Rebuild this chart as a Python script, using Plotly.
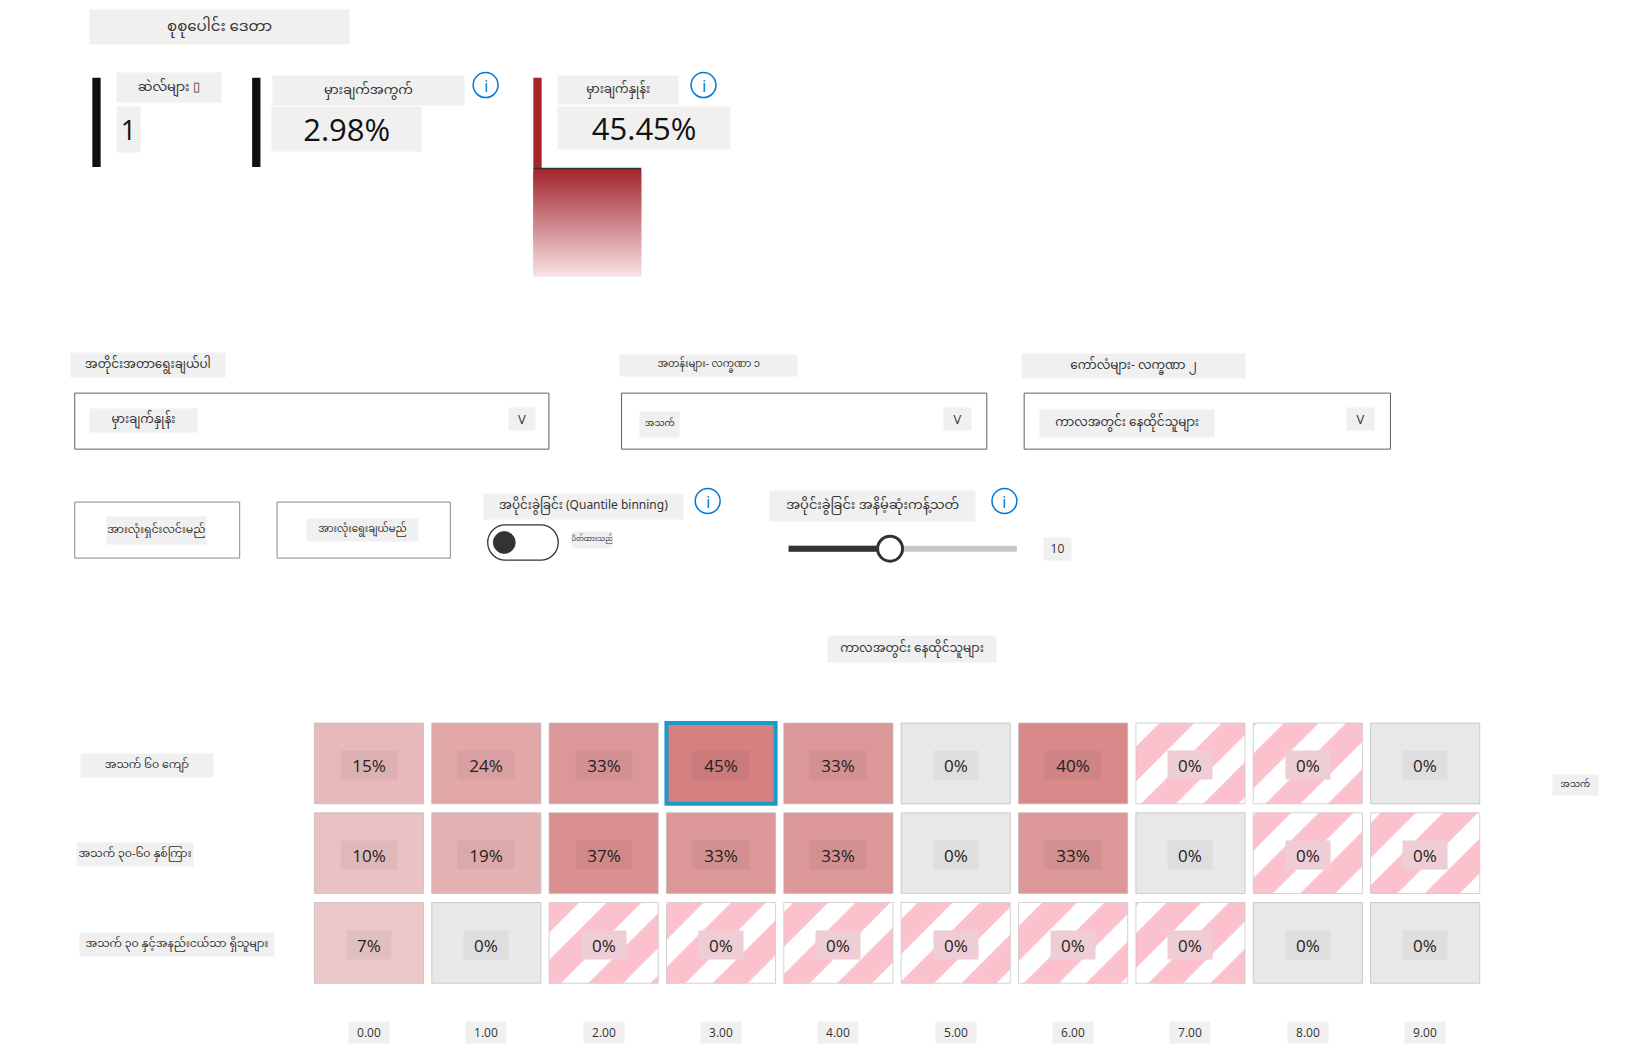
import plotly.graph_objects as go

# ---------------- data ----------------
title_text = "စုစုပေါင်း ဒေတာ"
kpi_labels = ["ဆဲလ်များ ▯", "မှားချက်အကွက်", "မှားချက်နှုန်း"]
kpi_values = ["1", "2.98%", "45.45%"]

metric_label = "အတိုင်းအတာရွေးချယ်ပါ"
metric_value = "မှားချက်နှုန်း"
row_feature_label = "အတန်းများ- လက္ခဏာ ၁"
row_feature_value = "အသက်"
col_feature_label = "ကော်လံများ- လက္ခဏာ ၂"
col_feature_value = "ကာလအတွင်း နေထိုင်သူများ"
button_labels = ["အားလုံးရှင်းလင်းမည်", "အားလုံးရွေးချယ်မည်"]
binning_label = "အပိုင်းခွဲခြင်း (Quantile binning)"
toggle_state = "ပိတ်ထားသည်"
threshold_label = "အပိုင်းခွဲခြင်း အနိမ့်ဆုံးကန့်သတ်"
slider_min, slider_max, slider_value = 2, 20, 10

col_title = "ကာလအတွင်း နေထိုင်သူများ"
row_title = "အသက်"
row_labels = ["အသက် ၆၀ ကျော်", "အသက် ၃၀-၆၀ နှစ်ကြား", "အသက် ၃၀ နှင့်အနည်းငယ်သာ ရှိသူများ"]
col_ticks = ["0.00", "1.00", "2.00", "3.00", "4.00", "5.00", "6.00", "7.00", "8.00", "9.00"]
# error rate (%) per cell; None = empty cell (hatched)
error_rate_row0 = [15, 24, 33, 45, 33, 0, 40, None, None, 0]
error_rate_row1 = [10, 19, 37, 33, 33, 0, 33, 0, None, None]
error_rate_row2 = [7, 0, None, None, None, None, None, None, 0, 0]
error_rates = [error_rate_row0, error_rate_row1, error_rate_row2]
selected_cell = (0, 3)

# ---------------- layout helpers ----------------
W, H = 1626, 1057
W0, H0 = 1567.0, 1019.0   # reference frame used for placement
K = W / W0
MY = "Noto Sans Myanmar, Padauk, Myanmar Text, Noto Sans, Open Sans, sans-serif"
NUM = "Open Sans, Noto Sans, sans-serif"
LBG = "#f0f0f0"


def px(x):
    return x / W0


def py(y):
    return 1 - y / H0


annotations = []
shapes = []


def box_label(text, x0, y0, x1, y1, size=12, color="#333", bg=LBG, family=MY):
    annotations.append(dict(
        text=text, x=px((x0 + x1) / 2), y=py((y0 + y1) / 2), xref="paper", yref="paper",
        showarrow=False, width=(x1 - x0) * K, height=(y1 - y0) * K, bgcolor=bg,
        font=dict(size=size, color=color, family=family), align="center", valign="middle",
        borderpad=0, xanchor="center", yanchor="middle"))


def rect(x0, y0, x1, y1, fill=None, line_color=None, lw=1):
    shapes.append(dict(type="rect", xref="paper", yref="paper",
                       x0=px(x0), x1=px(x1), y0=py(y1), y1=py(y0),
                       fillcolor=fill if fill else "rgba(0,0,0,0)",
                       line=dict(color=line_color if line_color else "rgba(0,0,0,0)",
                                 width=lw if line_color else 0)))


def circle(cx, cy, r, fill=None, line_color=None, lw=1.5):
    rr = r * K
    shapes.append(dict(type="circle", xref="paper", yref="paper", xsizemode="pixel", ysizemode="pixel",
                       xanchor=px(cx), yanchor=py(cy), x0=-rr, x1=rr, y0=-rr, y1=rr,
                       fillcolor=fill if fill else "rgba(0,0,0,0)",
                       line=dict(color=line_color if line_color else "rgba(0,0,0,0)", width=lw)))


def info_icon(cx, cy):
    circle(cx, cy, 12, line_color="#0078d4", lw=1.5)
    annotations.append(dict(text="i", x=px(cx), y=py(cy), xref="paper", yref="paper", showarrow=False,
                            font=dict(size=17, color="#0078d4", family=NUM), xanchor="center", yanchor="middle"))


# ---------------- top KPI area ----------------
box_label(title_text, 87, 10, 337, 43, size=15)
rect(89, 75, 97, 161, fill="#111")
box_label(kpi_labels[0], 113, 70, 213, 98, size=13)
box_label(kpi_values[0], 113, 103, 135, 146, size=27, color="#111", family=NUM)
rect(243, 75, 251, 161, fill="#111")
box_label(kpi_labels[1], 263, 73, 447, 101, size=13)
box_label(kpi_values[1], 262, 103, 406, 145, size=31, color="#111", family=NUM)
info_icon(468, 82)

rect(514, 75, 522, 163, fill="#a4262c")
nb = 52
g0, g1 = (164, 38, 46), (247, 224, 227)
for i in range(nb):
    t = i / (nb - 1)
    c = tuple(int(round(g0[k] + (g1[k] - g0[k]) * t)) for k in range(3))
    ya = 163 + (266 - 163) * i / nb
    yb = 163 + (266 - 163) * (i + 1) / nb + 2.5
    if i == nb - 1:
        yb = 266
    rect(514, ya, 618, yb, fill="rgb(%d,%d,%d)" % c)
shapes.append(dict(type="line", xref="paper", yref="paper", x0=px(514), x1=px(618), y0=py(162.5), y1=py(162.5),
                   line=dict(color="#333", width=1.5)))
box_label(kpi_labels[2], 538, 73, 654, 100, size=12)
box_label(kpi_values[2], 538, 103, 704, 143, size=31, color="#111", family=NUM)
info_icon(678, 82)

# ---------------- selectors ----------------
box_label(metric_label, 69, 340, 217, 363, size=12)
rect(72, 379, 529, 433, line_color="#606060", lw=1)
box_label(metric_value, 87, 394, 190, 416, size=12)
box_label("V", 491, 393, 516, 414, size=13, family=NUM)

box_label(row_feature_label, 597, 342, 768, 362, size=10)
rect(599, 379, 951, 433, line_color="#606060", lw=1)
box_label(row_feature_value, 617, 397, 655, 421, size=9)
box_label("V", 910, 393, 936, 414, size=13, family=NUM)

box_label(col_feature_label, 985, 341, 1200, 364, size=12)
rect(987, 379, 1340, 433, line_color="#606060", lw=1)
box_label(col_feature_value, 1002, 395, 1170, 421, size=12)
box_label("V", 1298, 393, 1324, 414, size=13, family=NUM)

rect(72, 484, 231, 538, line_color="#8a8a8a", lw=1)
box_label(button_labels[0], 103, 498, 198, 524, size=11)
rect(267, 484, 434, 538, line_color="#8a8a8a", lw=1)
box_label(button_labels[1], 296, 500, 403, 521, size=10)

box_label(binning_label, 466, 476, 658, 500, size=12)
info_icon(682, 483)
# toggle pill
pw, ph = 34 * K, 17 * K
rr = ph
cx_off = pw - rr
kk = 0.5523 * rr
pill = ("M %.2f,%.2f L %.2f,%.2f C %.2f,%.2f %.2f,%.2f %.2f,%.2f C %.2f,%.2f %.2f,%.2f %.2f,%.2f "
        "L %.2f,%.2f C %.2f,%.2f %.2f,%.2f %.2f,%.2f C %.2f,%.2f %.2f,%.2f %.2f,%.2f Z") % (
    -cx_off, -rr, cx_off, -rr,
    cx_off + kk, -rr, pw, -kk, pw, 0,
    pw, kk, cx_off + kk, rr, cx_off, rr,
    -cx_off, rr,
    -cx_off - kk, rr, -pw, kk, -pw, 0,
    -pw, -kk, -cx_off - kk, -rr, -cx_off, -rr)
shapes.append(dict(type="path", xref="paper", yref="paper", xsizemode="pixel", ysizemode="pixel",
                   xanchor=px(504), yanchor=py(523), path=pill, line=dict(color="#333", width=1.3)))
circle(486, 523, 10.5, fill="#333", line_color="#333", lw=1)
box_label(toggle_state, 551, 513, 590, 528, size=7)

box_label(threshold_label, 742, 473, 940, 502, size=13)
info_icon(968, 483)
s0, s1 = 760, 980
sx = s0 + (slider_value - slider_min) / (slider_max - slider_min) * (s1 - s0)
shapes.append(dict(type="line", xref="paper", yref="paper", x0=px(s0), x1=px(s1), y0=py(529), y1=py(529),
                   line=dict(color="#c8c8c8", width=6)))
shapes.append(dict(type="line", xref="paper", yref="paper", x0=px(s0), x1=px(sx), y0=py(529), y1=py(529),
                   line=dict(color="#333", width=6)))
circle(sx, 529, 12, fill="white", line_color="#333", lw=3)
box_label(str(slider_value), 1006, 519, 1032, 540, size=12, family=NUM)

# ---------------- heat map ----------------
box_label(col_title, 798, 613, 960, 638, size=12)
box_label(row_title, 1497, 747, 1540, 766, size=9)

fx, fb, fv, flw, flc = [], [], [], [], []
hx, hb = [], []
for r, row in enumerate(error_rates):
    for c, v in enumerate(row):
        if v is None:
            hx.append(c)
            hb.append(r - 0.45)
        else:
            fx.append(c)
            fb.append(r - 0.45)
            fv.append(v)
            sel = (r, c) == selected_cell
            flw.append(4 if sel else 1)
            flc.append("#1a9bcc" if sel else "rgba(190,190,190,0.75)")

heat_scale = [[0, "#e8e8e8"], [0.004, "#e8e8e8"], [0.005, "rgb(240,212,213)"], [1, "rgb(179,24,25)"]]

# draw selected last so its border sits on top
order = sorted(range(len(fx)), key=lambda i: flw[i])
fig = go.Figure()
fig.add_trace(go.Bar(
    x=[fx[i] for i in order], y=[0.9] * len(fx), base=[fb[i] for i in order], width=0.93,
    marker=dict(color=[fv[i] for i in order], colorscale=heat_scale, cmin=0, cmax=100,
                line=dict(width=[flw[i] for i in order], color=[flc[i] for i in order])),
    hoverinfo="skip", showlegend=False))
fig.add_trace(go.Bar(
    x=hx, y=[0.9] * len(hx), base=hb, width=0.93,
    marker=dict(color="white", line=dict(width=1, color="rgba(200,200,200,0.8)"),
                pattern=dict(shape="/", fgcolor="#fbc1cc", bgcolor="white", fgopacity=1,
                             size=44, solidity=0.56)),
    hoverinfo="skip", showlegend=False))

for r, row in enumerate(error_rates):
    for c, v in enumerate(row):
        txt = "%d%%" % (0 if v is None else v)
        if v is None:
            bg = "#efcdd4"
        else:
            bg = "rgba(0,0,0,0.045)"
        annotations.append(dict(text=txt, x=c, y=r + 0.02, xref="x", yref="y", showarrow=False,
                                xanchor="center", yanchor="middle",
                                width=12 * len(txt) + 20, height=28, bgcolor=bg, borderpad=0,
                                font=dict(size=17, color="#222", family=NUM)))

row_label_boxes = [(78, 205), (74, 186), (77, 264)]
for r, lab in enumerate(row_labels):
    x0, x1 = row_label_boxes[r]
    annotations.append(dict(text=lab, x=px((x0 + x1) / 2), y=r + 0.02, xref="paper", yref="y",
                            xanchor="center", yanchor="middle",
                            showarrow=False, width=(x1 - x0) * K, height=22 * K, bgcolor=LBG,
                            borderpad=0, font=dict(size=11, color="#333", family=MY)))

for c, t in enumerate(col_ticks):
    annotations.append(dict(text=t, x=c, y=py(995), xref="x", yref="paper", showarrow=False,
                            xanchor="center", yanchor="middle",
                            width=40, height=21, bgcolor=LBG, borderpad=0,
                            font=dict(size=12, color="#333", family=NUM)))

fig.update_layout(
    width=W, height=H, margin=dict(l=0, r=0, t=0, b=0),
    paper_bgcolor="white", plot_bgcolor="white", barmode="overlay", showlegend=False,
    xaxis=dict(domain=[px(299), px(1430)], range=[-0.5, 9.5], visible=False, fixedrange=True),
    yaxis=dict(domain=[py(952.25), py(692.75)], range=[2.5, -0.5], visible=False, fixedrange=True),
    shapes=shapes, annotations=annotations,
)

fig.write_html("out.html", config={"displayModeBar": False},
               post_script="document.body.style.margin='0';document.body.style.overflow='hidden';")
